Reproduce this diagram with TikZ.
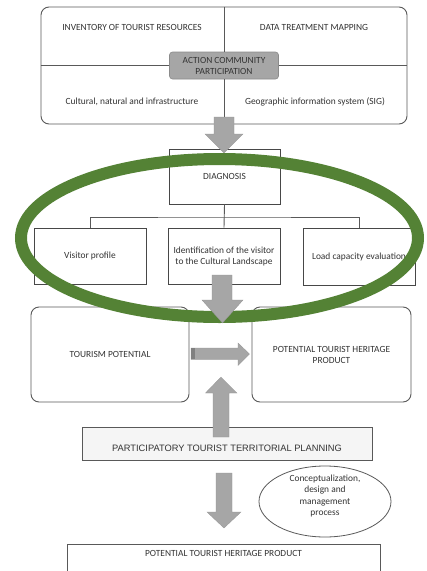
\documentclass[tikz,border=0pt]{standalone}
\usepackage{fontspec}
\setmainfont{Carlito}
\newfontfamily\arialf{Liberation Sans}
\usetikzlibrary{shapes.geometric}
\definecolor{txt}{HTML}{333333}
\definecolor{edge}{HTML}{595959}
\definecolor{arrowgray}{HTML}{A6A6A6}
\definecolor{ringgreen}{HTML}{548235}
\begin{document}
\begin{tikzpicture}[x=1pt,y=-1pt,
  every node/.style={font=\fontsize{9.4}{11}\selectfont, text=txt, inner sep=0pt},
  rbox/.style={draw=edge, line width=0.9pt, rounded corners=8pt, fill=white},
  sbox/.style={draw=edge!80!black, line width=0.9pt, fill=white, align=center},
  barrow/.style={fill=arrowgray, draw=arrowgray!90!black, line width=0.3pt},
  divider/.style={draw=edge, line width=0.9pt}]
\useasboundingbox (0,0) rectangle (427,571);
\fill[white] (0,0) rectangle (427,571);

% top box
\node[rbox, minimum width=366pt, minimum height=117pt] (top) at (224,65.5) {};
\node[draw=edge!70, line width=0.6pt, fill=arrowgray, rounded corners=3pt, minimum width=109pt, minimum height=27pt, align=center] (action) at (224,65.5) {ACTION COMMUNITY\\PARTICIPATION};
\draw[divider] (top.west) -- (action.west);
\draw[divider] (action.east) -- (top.east);
\draw[divider] (top.north) -- (action.north);
\draw[divider] (action.south) -- (top.south);
\node (inv) at (132,27) {INVENTORY OF TOURIST RESOURCES};
\node (data) at (314,27) {DATA TREATMENT MAPPING};
\node (cult) at (132,102) {Cultural, natural and infrastructure};
\node (geo) at (315,102) {Geographic information system (SIG)};

% diagnosis
\node[sbox, minimum width=111pt, minimum height=55pt] (diag) at (224.5,176.5) {DIAGNOSIS};
\node[sbox, minimum width=112pt, minimum height=56pt] (vp) at (90,256) {Visitor profile};
\node[sbox, minimum width=112pt, minimum height=56pt] (idv) at (224,256) {Identification of the visitor\\to the Cultural Landscape};
\node[sbox, minimum width=112pt, minimum height=57pt] (lce) at (359,256.5) {Load capacity evaluation};
\coordinate (bus) at (224,217);
\draw[divider] (diag.south) -- (idv.north);
\draw[divider] (vp.north) |- (bus) -| (lce.north);

% tourism boxes
\node[rbox, minimum width=158pt, minimum height=95pt] (tp) at (110,354.5) {TOURISM POTENTIAL};
\node[rbox, minimum width=159pt, minimum height=95pt, align=center] (pthp) at (331.5,354.5) {POTENTIAL TOURIST HERITAGE\\PRODUCT};

% participatory
\node[draw=edge, line width=1pt, fill=black!4, minimum width=290pt, minimum height=33pt, text height=15.7pt, text depth=0pt, font=\arialf\fontsize{9.3}{11}\selectfont] (ptp) at (227,443.5) {PARTICIPATORY TOURIST TERRITORIAL PLANNING};

% ellipse
\node[draw=edge, line width=0.8pt, ellipse, minimum width=132pt, minimum height=71pt] (cdm) at (325,501.5) {};
\node[align=center, font=\fontsize{9.4}{11.3}\selectfont] (cdmtext) at (325,496) {Conceptualization,\\design and\\management\\process};

% bottom box
\node[draw=edge, line width=0.9pt, fill=white, minimum width=313pt, minimum height=34pt, text height=6.7pt, text depth=16pt] (final) at (223.5,561) {POTENTIAL TOURIST HERITAGE PRODUCT};

% green ring
\draw[ringgreen, line width=12pt] (219.5,238) ellipse [x radius=198.5pt, y radius=79pt];

% block arrows
\path[barrow] (214,117) -- (234,117) -- (234,134) -- (243,134) -- (224,153) -- (205,134) -- (214,134) -- cycle;
\path[barrow] (212,275) -- (232,275) -- (232,300) -- (243,300) -- (222.5,323) -- (202,300) -- (212,300) -- cycle;
\path[barrow] (191,348) -- (238,348) -- (238,343) -- (249.5,354) -- (238,365.5) -- (238,359.5) -- (191,359.5) -- cycle;
\fill[black!50] (191,348.4) rectangle (195,359.1);
\path[barrow] (213,437) -- (229,437) -- (229,393) -- (237,393) -- (221,377) -- (205.5,393) -- (213,393) -- cycle;
\path[barrow] (216,473) -- (232,473) -- (232,512) -- (241,512) -- (224,528) -- (207,512) -- (216,512) -- cycle;
\end{tikzpicture}
\end{document}
